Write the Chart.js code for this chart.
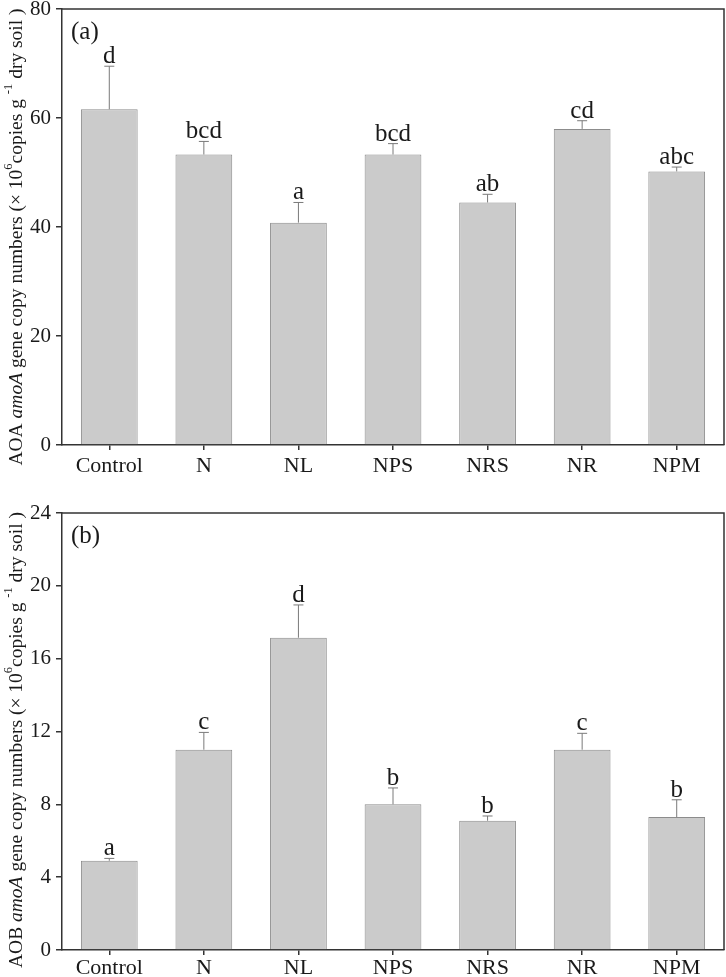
<!DOCTYPE html>
<html><head><meta charset="utf-8">
<script src="https://cdn.jsdelivr.net/npm/chart.js@4/dist/chart.umd.min.js"></script>
<style>body{margin:0;background:#fff}canvas{display:block}</style>
</head><body>
<canvas id="c1" width="726" height="480"></canvas>
<canvas id="c2" width="726" height="497"></canvas>
<script>
const categories = ['Control','N','NL','NPS','NRS','NR','NPM'];
const aoaMean = [61.6, 53.3, 40.8, 53.3, 44.5, 58.0, 50.2];
const aoaErr  = [7.9, 2.4, 3.7, 2.0, 1.5, 1.5, 0.8];
const aoaLetters = ['d','bcd','a','bcd','ab','cd','abc'];
const aobMean = [4.9, 11.0, 17.15, 8.0, 7.1, 11.0, 7.3];
const aobErr  = [0.13, 0.95, 1.8, 0.9, 0.26, 0.9, 0.95];
const aobLetters = ['a','c','d','b','b','c','b'];
const aoaTicks = [0, 20, 40, 60, 80];
const aobTicks = [0, 4, 8, 12, 16, 20, 24];

const SERIF = '"Liberation Serif","Times New Roman",serif';

function makeChart(id, means, errs, letters, ticks, panel, prefix, padTop, xH, titleCY, xPad) {
  const overlay = {
    id: 'overlay',
    afterDraw(chart) {
      const ctx = chart.ctx, a = chart.chartArea;
      const xs = chart.scales.x, ys = chart.scales.y;
      ctx.save();
      ctx.strokeStyle = '#333'; ctx.lineWidth = 1.5;
      ctx.beginPath();
      ctx.moveTo(a.left, a.top); ctx.lineTo(a.right, a.top); ctx.lineTo(a.right, a.bottom);
      ctx.stroke();
      ctx.strokeStyle = '#7a7a7a'; ctx.lineWidth = 1;
      ctx.fillStyle = '#1a1a1a';
      ctx.font = '25px ' + SERIF; ctx.textAlign = 'center'; ctx.textBaseline = 'alphabetic';
      means.forEach((m, i) => {
        const x = xs.getPixelForValue(i);
        const y0 = ys.getPixelForValue(m), y1 = ys.getPixelForValue(m + errs[i]);
        ctx.beginPath();
        ctx.moveTo(x, y0); ctx.lineTo(x, y1);
        ctx.moveTo(x - 5, y1); ctx.lineTo(x + 5, y1);
        ctx.stroke();
        ctx.fillText(letters[i], x, y1 - 3);
      });
      ctx.textAlign = 'left'; ctx.textBaseline = 'top';
      ctx.font = '25px ' + SERIF;
      ctx.fillText(panel, a.left + 9, a.top + 11);
      const fs = 19.5, sfs = 12.5;
      const segs = [
        {t: prefix + ' ', f: fs + 'px ' + SERIF, dy: 0},
        {t: 'amoA', f: 'italic ' + fs + 'px ' + SERIF, dy: 0},
        {t: ' gene copy numbers (\u00d7 10', f: fs + 'px ' + SERIF, dy: 0},
        {t: '6', f: sfs + 'px ' + SERIF, dy: -8},
        {t: 'copies g ', f: fs + 'px ' + SERIF, dy: 0},
        {t: '-1', f: sfs + 'px ' + SERIF, dy: -8},
        {t: ' dry soil )', f: fs + 'px ' + SERIF, dy: 0}
      ];
      let total = 0;
      segs.forEach(s => { ctx.font = s.f; s.w = ctx.measureText(s.t).width; total += s.w; });
      ctx.translate(17, titleCY);
      ctx.rotate(-Math.PI / 2);
      ctx.textBaseline = 'middle'; ctx.textAlign = 'left';
      let cx = -total / 2;
      segs.forEach(s => { ctx.font = s.f; ctx.fillText(s.t, cx, s.dy); cx += s.w; });
      ctx.restore();
    }
  };
  return new Chart(document.getElementById(id), {
    type: 'bar',
    data: { labels: categories, datasets: [{
      data: means, backgroundColor: '#cbcbcb', borderColor: '#8c8c8c',
      borderWidth: 1, borderSkipped: 'bottom',
      barPercentage: 0.6, categoryPercentage: 1.0 }] },
    options: {
      responsive: false, animation: false, devicePixelRatio: 1,
      layout: { padding: { top: padTop, right: 2, left: 0, bottom: 0 } },
      plugins: { legend: { display: false }, tooltip: { enabled: false } },
      scales: {
        x: {
          grid: { drawOnChartArea: false, drawTicks: true, tickLength: 5, color: '#333', offset: false, lineWidth: 1.5 },
          border: { display: true, color: '#333', width: 1.5 },
          ticks: { font: { family: SERIF, size: 22 }, color: '#1a1a1a', padding: xPad, maxRotation: 0 },
          afterFit(s) { s.height = xH; s.paddingLeft = 0; s.paddingRight = 0; }
        },
        y: {
          min: ticks[0], max: ticks[ticks.length - 1],
          afterBuildTicks(s) { s.ticks = ticks.map(v => ({ value: v })); },
          grid: { drawOnChartArea: false, drawTicks: true, tickLength: 6, color: '#333', lineWidth: 1.5 },
          border: { display: true, color: '#333', width: 1.5 },
          ticks: { font: { family: SERIF, size: 21 }, color: '#1a1a1a', padding: 5 },
          afterFit(s) { s.width = 62; s.paddingTop = 0; s.paddingBottom = 0; }
        }
      }
    },
    plugins: [overlay]
  });
}

makeChart('c1', aoaMean, aoaErr, aoaLetters, aoaTicks, '(a)', 'AOA', 9, 35, 237, 3);
makeChart('c2', aobMean, aobErr, aobLetters, aobTicks, '(b)', 'AOB', 33, 27, 260, 0);
</script>
</body></html>
